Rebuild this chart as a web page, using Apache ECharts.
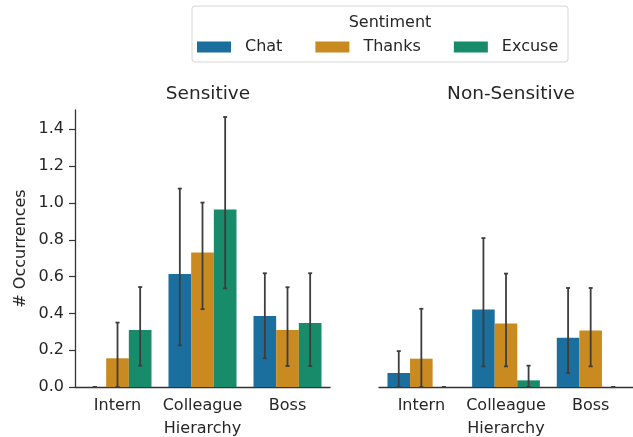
<!DOCTYPE html>
<html>
<head>
<meta charset="utf-8">
<script src="https://cdn.jsdelivr.net/npm/echarts@6/dist/echarts.min.js"></script>
<style>
  html, body { margin: 0; padding: 0; background: #fff; }
  #main { width: 633px; height: 437px; }
</style>
</head>
<body>
<div id="main"></div>
<script>
var categories = ['Intern', 'Colleague', 'Boss'];
var sentiments = ['Chat', 'Thanks', 'Excuse'];
var colors = ['#1a6f9f', '#c98a20', '#188b6b'];
var yTicks = [0, 0.2, 0.4, 0.6, 0.8, 1.0, 1.2, 1.4];

// Sensitive panel: mean, lower and upper error bar ends (per sentiment, per category)
var sensMean = [[0, 0.614, 0.386], [0.156, 0.731, 0.31], [0.31, 0.964, 0.348]];
var sensLow  = [[0, 0.226, 0.156], [0, 0.423, 0.114], [0.116, 0.536, 0.114]];
var sensHigh = [[0, 1.078, 0.618], [0.35, 1.002, 0.542], [0.543, 1.467, 0.618]];

// Non-Sensitive panel
var nonMean = [[0.076, 0.421, 0.267], [0.154, 0.345, 0.307], [0, 0.036, 0]];
var nonLow  = [[0, 0.112, 0.076], [0, 0.112, 0.112], [0, 0, 0]];
var nonHigh = [[0.195, 0.809, 0.538], [0.425, 0.616, 0.538], [0, 0.116, 0]];

var myChart = echarts.init(document.getElementById('main'));

var font = 'DejaVu Sans';
var txt = '#262626';

let renderErr = function(params, api)
{
    var cat = api.value(0);
    var s = api.value(1);
    var lo = api.coord([cat, api.value(2)]);
    var hi = api.coord([cat, api.value(3)]);
    var band = api.size([1, 0])[0];
    var x = lo[0] + (s - 1) * band * 0.8 / 3;
    var st = { stroke: '#3d3d3d', lineWidth: 1.8 };
    return {
        type: 'group',
        children: [
            { type: 'line', shape: { x1: x, y1: lo[1], x2: x, y2: hi[1] }, style: st },
            { type: 'line', shape: { x1: x - 2, y1: hi[1], x2: x + 2, y2: hi[1] }, style: st },
            { type: 'line', shape: { x1: x - 2, y1: lo[1], x2: x + 2, y2: lo[1] }, style: st }
        ]
    };
};

let errData = function(low, high)
{
    var out = [];
    for (var s = 0; s < 3; s++)
    {
        for (var c = 0; c < 3; c++)
        {
            out.push([c, s, low[s][c], high[s][c]]);
        }
    }
    return out;
};

let xAxisOf = function(idx)
{
    return {
        type: 'category',
        gridIndex: idx,
        data: categories,
        name: 'Hierarchy',
        nameLocation: 'middle',
        nameGap: 34,
        nameTextStyle: { color: txt, fontSize: 16, fontFamily: font },
        axisLine: { lineStyle: { color: '#333', width: 1.3 } },
        axisTick: { alignWithLabel: true, length: 6, lineStyle: { color: '#333', width: 1.2 } },
        axisLabel: { color: txt, fontSize: 16, fontFamily: font, margin: 11, interval: 0, hideOverlap: false },
        splitLine: { show: false }
    };
};

let yAxisOf = function(idx)
{
    var ax = {
        type: 'value',
        gridIndex: idx,
        min: 0,
        max: 1.505,
        axisLine: { show: idx === 0, lineStyle: { color: '#333', width: 1.3 } },
        axisTick: { show: idx === 0, customValues: yTicks, length: 6, lineStyle: { color: '#333', width: 1.2 } },
        axisLabel: {
            show: idx === 0,
            customValues: yTicks,
            color: txt, fontSize: 16, fontFamily: font, margin: 11,
            formatter: function(v) { return v.toFixed(1); }
        },
        splitLine: { show: false }
    };
    if (idx === 0)
    {
        ax.name = '# Occurrences';
        ax.nameLocation = 'middle';
        ax.nameGap = 46;
        ax.nameTextStyle = { color: txt, fontSize: 16, fontFamily: font };
    }
    return ax;
};

var series = [];
var panels = [sensMean, nonMean];
for (var p = 0; p < 2; p++)
{
    for (var s = 0; s < 3; s++)
    {
        series.push({
            name: sentiments[s],
            type: 'bar',
            xAxisIndex: p,
            yAxisIndex: p,
            data: panels[p][s],
            barGap: '0%',
            barCategoryGap: '20%',
            itemStyle: { color: colors[s] },
            emphasis: { disabled: true }
        });
    }
}
series.push({
    type: 'custom', xAxisIndex: 0, yAxisIndex: 0, z: 10,
    renderItem: renderErr, encode: { x: 0, y: [2, 3] },
    data: errData(sensLow, sensHigh)
});
series.push({
    type: 'custom', xAxisIndex: 1, yAxisIndex: 1, z: 10,
    renderItem: renderErr, encode: { x: 0, y: [2, 3] },
    data: errData(nonLow, nonHigh)
});

option =
{
    animation: false,
    backgroundColor: '#fff',
    title: [
        { text: 'Sensitive', left: 203, top: 80, textAlign: 'center',
          textStyle: { color: txt, fontSize: 18.5, fontWeight: 'normal', fontFamily: font } },
        { text: 'Non-Sensitive', left: 506, top: 80, textAlign: 'center',
          textStyle: { color: txt, fontSize: 18.5, fontWeight: 'normal', fontFamily: font } },
        { text: 'Sentiment', left: 385, top: 10, textAlign: 'center',
          textStyle: { color: txt, fontSize: 16, fontWeight: 'normal', fontFamily: font } }
    ],
    legend:
    {
        data: sentiments,
        left: 192,
        top: 34,
        itemWidth: 34,
        itemHeight: 11,
        itemGap: 33,
        icon: 'rect',
        selectedMode: false,
        textStyle: { color: txt, fontSize: 16, fontFamily: font, padding: [0, 0, 0, 9] }
    },
    graphic: [
        { type: 'rect', shape: { x: 192, y: 6, width: 376, height: 56, r: 3 },
          style: { fill: 'none', stroke: '#d6d6d6', lineWidth: 1 } }
    ],
    grid: [
        { left: 75, top: 110, width: 255, height: 277, outerBoundsMode: 'none' },
        { left: 379, top: 110, width: 254, height: 277, outerBoundsMode: 'none' }
    ],
    xAxis: [xAxisOf(0), xAxisOf(1)],
    yAxis: [yAxisOf(0), yAxisOf(1)],
    series: series
};

myChart.setOption(option);
</script>
</body>
</html>
